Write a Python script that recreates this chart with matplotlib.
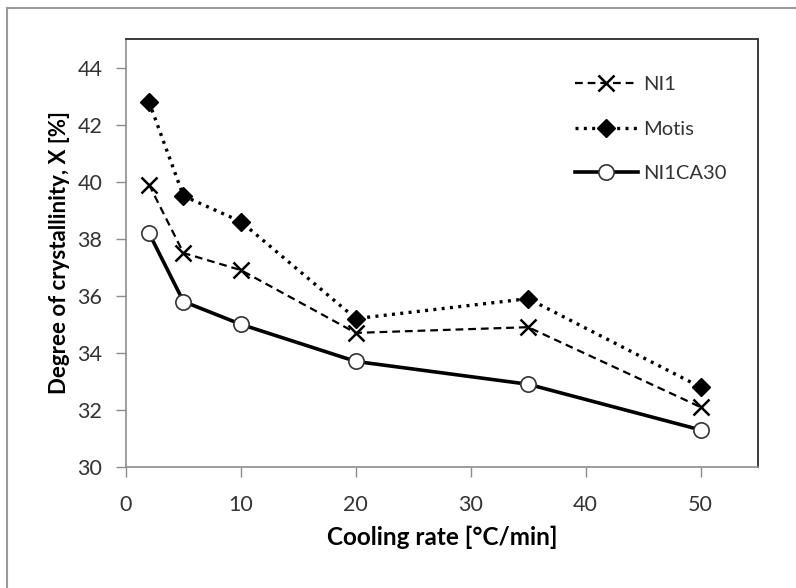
import matplotlib
matplotlib.use('Agg')
import matplotlib.pyplot as plt
from matplotlib.patches import Rectangle

plt.rcParams['font.family'] = ['Lato', 'DejaVu Sans']

# cooling rate [°C/min]
rate = [2, 5, 10, 20, 35, 50]

# degree of crystallinity [%]
ni1 = [39.9, 37.5, 36.9, 34.7, 34.9, 32.1]
motis = [42.8, 39.5, 38.6, 35.2, 35.9, 32.8]
ni1ca30 = [38.2, 35.8, 35.0, 33.7, 32.9, 31.3]

xticks = [0, 10, 20, 30, 40, 50]
yticks = [30, 32, 34, 36, 38, 40, 42, 44]

fig = plt.figure(figsize=(7.96, 5.88), dpi=100)
ax = fig.add_axes([126/796, 1-467/588, (758-126)/796, (467-39)/588])

ax.plot(rate, ni1, color='black', ls=(0, (3.5, 2.2)), lw=1.6,
        marker='x', ms=11, mew=1.8, label='NI1')
ax.plot(rate, motis, color='black', ls=(0, (0.9, 1.6)), lw=2.4,
        marker='D', ms=9, label='Motis')
ax.plot(rate, ni1ca30, color='black', ls='-', lw=2.6,
        marker='o', ms=11, mfc='white', mec='#333333', mew=1.2, label='NI1CA30')

ax.set_xlim(0, 55)
ax.set_ylim(30, 45)
ax.set_xticks(xticks)
ax.set_yticks(yticks)
ax.tick_params(direction='out', length=7, width=1, color='#8c8c8c',
               labelsize=15.5, labelcolor='#333333')
ax.tick_params(axis='x', pad=13)
ax.tick_params(axis='y', pad=10)

for s in ['left', 'bottom']:
    ax.spines[s].set_color('#8c8c8c')
    ax.spines[s].set_linewidth(1.2)
for s in ['top', 'right']:
    ax.spines[s].set_color('#3a3a3a')
    ax.spines[s].set_linewidth(1.4)

ax.set_xlabel('Cooling rate [°C/min]', fontsize=17.5, fontweight='bold', labelpad=8)
ax.set_ylabel('Degree of crystallinity, X [%]', fontsize=16, fontweight='bold', labelpad=5)

leg = ax.legend(loc='upper left', bbox_to_anchor=(0.682, 0.955), frameon=False,
                fontsize=14.5, handlelength=3.1, handletextpad=0.3, labelspacing=1.35,
                labelcolor='#333333')

# outer chart border (partially cropped)
fig.patches.append(Rectangle((7/796, -0.05), 1.1, 1 - 8/588 + 0.05,
                             transform=fig.transFigure, fill=False,
                             edgecolor='#9a9a9a', lw=1.5))

fig.savefig('out.png', dpi=100)
